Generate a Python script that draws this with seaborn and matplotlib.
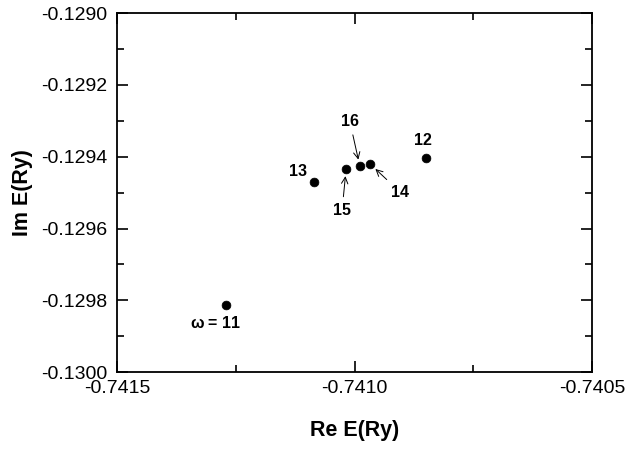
import matplotlib
matplotlib.use("Agg")
from matplotlib import pyplot as plt
from matplotlib.ticker import MultipleLocator
import seaborn as sns
import pandas as pd

# resonance positions for each omega
omega = [11, 12, 13, 14, 15, 16]
re_e = [-0.741271, -0.740850, -0.741085, -0.740967, -0.741018, -0.740989]
im_e = [-0.129813, -0.129404, -0.129471, -0.129421, -0.129435, -0.129427]
point_labels = ['$\\omega$ = 11', '12', '13', '14', '15', '16']

sns.set_style("ticks", {'text.color': 'black', 'axes.labelcolor': 'black',
                        'xtick.color': 'black', 'ytick.color': 'black',
                        'axes.edgecolor': 'black'})
plt.rcParams['font.family'] = ['Liberation Sans', 'DejaVu Sans']
plt.rcParams['mathtext.default'] = 'regular'

df = pd.DataFrame({'re': re_e, 'im': im_e, 'w': omega})

fig = plt.figure(figsize=(6.26, 4.5), dpi=100)
ax = fig.add_axes([0.187, 0.173, 0.759, 0.798])
sns.scatterplot(data=df, x='re', y='im', color='black', s=40, edgecolor='black', ax=ax, legend=False)

ax.set_xlim(-0.7415, -0.7405)
ax.set_ylim(-0.1300, -0.1290)
ax.xaxis.set_major_locator(MultipleLocator(0.0005))
ax.xaxis.set_minor_locator(MultipleLocator(0.00025))
ax.yaxis.set_major_locator(MultipleLocator(0.0002))
ax.yaxis.set_minor_locator(MultipleLocator(0.0001))
ax.xaxis.set_major_formatter(lambda v, p: '%.4f' % v)
ax.yaxis.set_major_formatter(lambda v, p: '%.4f' % v)
ax.tick_params(which='both', direction='in', top=True, right=True, labelsize=14)
ax.tick_params(axis='x', pad=6)
ax.tick_params(axis='y', pad=7)
ax.tick_params(which='major', length=8, width=1.2)
ax.tick_params(which='minor', length=5, width=1.2)
for sp in ax.spines.values():
    sp.set_linewidth(1.3)
    sp.set_visible(True)

ax.set_xlabel('Re E(Ry)', fontsize=15.5, fontweight='bold', labelpad=16)
ax.set_ylabel('Im E(Ry)', fontsize=15.5, fontweight='bold', labelpad=6)

# labels: offsets in pixels from each point
bold = dict(fontsize=11.5, fontweight='bold', ha='center', va='center',
            textcoords='offset pixels')
arrow = dict(arrowstyle='->', color='black', lw=0.7, shrinkA=2, shrinkB=5)
offsets = [(-10, -18), (-3, 18), (-16, 11), (30, -28), (-4, -41), (-10, 45)]
with_arrow = [False, False, False, True, True, True]
for i in range(len(omega)):
    ax.annotate(point_labels[i], xy=(re_e[i], im_e[i]), xytext=offsets[i],
                arrowprops=arrow if with_arrow[i] else None, **bold)

fig.savefig('out.png', dpi=100)
